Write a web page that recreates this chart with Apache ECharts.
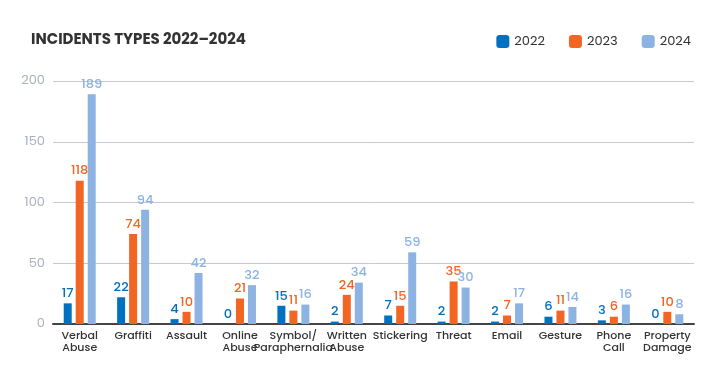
<!DOCTYPE html>
<html><head><meta charset="utf-8">
<script src="https://cdn.jsdelivr.net/npm/echarts@6/dist/echarts.min.js"></script>
<style>html,body{margin:0;padding:0;background:#fff}#c{width:726px;height:389px}</style>
</head><body><div id="c"></div>
<script>
const categories = ['Verbal\nAbuse','Graffiti','Assault','Online\nAbuse','Symbol/\nParaphernalia','Written\nAbuse','Stickering','Threat','Email','Gesture','Phone\nCall','Property\nDamage'];
const years = ['2022','2023','2024'];
const values2022 = [17,22,4,0,15,2,7,2,2,6,3,0];
const values2023 = [118,74,10,21,11,24,15,35,7,11,6,10];
const values2024 = [189,94,42,32,16,34,59,30,17,14,16,8];
const yTicks = [0,50,100,150,200];
const colors = ['#0070c0','#f26522','#8db3e2'];
const FONT = 'Poppins, "Open Sans", Lato, sans-serif';
const chart = echarts.init(document.getElementById('c'));
const mk = (name, data, color) => ({
  name, type:'bar', data, barWidth:8, barGap:'50%',
  itemStyle:{color},
  label:{show:true, position:'top', color, fontSize:13, fontWeight:500, fontFamily:FONT, distance:3}
});
chart.setOption({
  animation:false,
  title:{text:'INCIDENTS TYPES 2022\u20132024', left:26, top:28,
    textStyle:{fontSize:15, fontWeight:'bold', color:'#333', fontFamily:FONT}},
  legend:{data:years, right:30, top:30, itemWidth:13, itemHeight:13, itemGap:24,
    icon:'roundRect', textStyle:{fontSize:13, color:'#333', fontFamily:FONT}},
  grid:{left:53, right:32, top:81, bottom:65},
  xAxis:{type:'category', data:categories,
    axisLine:{lineStyle:{color:'#444', width:2}}, axisTick:{show:false},
    axisLabel:{interval:0, fontSize:11, fontWeight:500, color:'#333', fontFamily:FONT, lineHeight:12, margin:6}},
  yAxis:{type:'value', min:yTicks[0], max:yTicks[yTicks.length-1], interval:50,
    axisLine:{show:false}, axisTick:{show:false},
    splitLine:{lineStyle:{color:'#c8c8d0', width:1}},
    axisLabel:{fontSize:13, color:'#aab0bf', fontFamily:FONT, margin:8}},
  series:[mk(years[0],values2022,colors[0]), mk(years[1],values2023,colors[1]), mk(years[2],values2024,colors[2])]
});
</script></body></html>
